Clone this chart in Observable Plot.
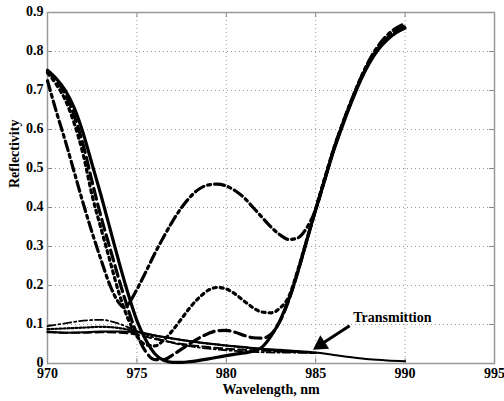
<!DOCTYPE html>
<html><head><meta charset="utf-8">
<script src="https://cdn.jsdelivr.net/npm/d3@7"></script>
<script src="https://cdn.jsdelivr.net/npm/@observablehq/plot@0.6"></script>
<style>body{margin:0;background:#fff} svg text{font-family:"Liberation Serif","Times New Roman",Times,serif !important;}</style>
</head><body><div id="chart"></div>
<script>
// ---- data ----
const xTicks = [970, 975, 980, 985, 990, 995];
const yTicks = [0, 0.1, 0.2, 0.3, 0.4, 0.5, 0.6, 0.7, 0.8, 0.9];

const lambdaR = [970,970.5,971,971.5,972,972.5,973,973.5,974,974.5,975,975.5,976,976.5,977,977.5,978,978.5,979,979.5,980,980.5,981,981.5,982,982.5,983,983.5,984,984.5,985,985.5,986,986.5,987,987.5,988,988.5,989,989.5,990];
const rSolid  = [.752,.73,.70,.655,.59,.51,.43,.345,.26,.18,.11,.06,.025,.008,.003,.003,.005,.008,.012,.016,.02,.024,.027,.032,.042,.07,.11,.165,.235,.315,.395,.47,.545,.61,.67,.725,.77,.805,.83,.848,.86];
const rDashed = [.75,.725,.69,.635,.56,.465,.375,.295,.215,.14,.075,.03,.01,.01,.022,.037,.052,.066,.077,.084,.085,.08,.072,.066,.065,.075,.108,.163,.235,.315,.395,.472,.548,.613,.673,.728,.773,.808,.834,.852,.864];
const rDotted = [.745,.715,.675,.615,.535,.43,.345,.262,.18,.115,.07,.048,.045,.06,.085,.115,.145,.17,.188,.195,.191,.178,.16,.143,.132,.13,.142,.172,.24,.318,.397,.475,.55,.615,.675,.73,.776,.81,.837,.855,.866];
const lambdaDD = [970,970.5,971,971.5,972,972.5,973,973.5,974,974.3,974.6,975,975.5,976,976.5,977,977.5,978,978.5,979,979.5,980,980.5,981,981.5,982,982.5,983,983.5,984,984.5,985,985.5,986,986.5,987,987.5,988,988.5,989,989.5,990];
const rDashDot = [.725,.645,.57,.49,.41,.335,.265,.2,.155,.143,.158,.19,.235,.282,.325,.365,.4,.428,.448,.458,.46,.455,.443,.425,.4,.375,.35,.33,.318,.322,.348,.395,.47,.548,.615,.675,.73,.778,.815,.842,.86,.872];

const lambdaT = [970,971,972,973,974,975,976,977,978,979,980,981,982,983,984,985,986,987,988,989,990];
const tSolid   = [.082,.079,.08,.082,.082,.08,.072,.064,.057,.051,.046,.042,.038,.035,.032,.028,.022,.016,.011,.008,.006];
const tDashed  = [.08,.079,.079,.08,.079,.074,.063,.054,.047,.042,.038,.035,.033,.031,.029,.027];
const tDotted  = [.088,.09,.092,.094,.091,.082,.072,.064,.057,.051,.046,.041,.036,.032,.029,.027];
const tDashDot = [.096,.103,.11,.112,.102,.083,.066,.053,.044,.038,.034,.031,.029,.028,.028,.027];

const annText = "Transmittion";
const annTextPos = [987.1, 0.118];
const annArrowFrom = [986.9, 0.097];
const annArrowTo = [985.0, 0.040];

const xDomain = [970, 995];
const yDomain = [0, 0.9];

// ---- build ----
const toRows = (xs, ys) => ys.map((v, i) => ({x: xs[i], y: v}));
const font = {fontFamily: "Liberation Serif", fontWeight: "bold", fontSize: 14};
const tickLenY = (yDomain[1] - yDomain[0]) * 5 / 351;
const tickLenX = (xDomain[1] - xDomain[0]) * 5 / 447;

const series = [
  {d: toRows(lambdaT, tSolid), w: 2, dash: null},
  {d: toRows(lambdaT, tDashed), w: 2, dash: "8,4"},
  {d: toRows(lambdaT, tDotted), w: 2.2, dash: "2,2"},
  {d: toRows(lambdaT, tDashDot), w: 1.8, dash: "8,3,2,3"},
  {d: toRows(lambdaR, rSolid), w: 3.2, dash: null},
  {d: toRows(lambdaR, rDashed), w: 3.2, dash: "11,5"},
  {d: toRows(lambdaR, rDotted), w: 3.2, dash: "3,4"},
  {d: toRows(lambdaDD, rDashDot), w: 3.2, dash: "10,4,3,4"}
];

const dxA = annArrowTo[0] - annArrowFrom[0];
const dyA = annArrowTo[1] - annArrowFrom[1];

const chart = Plot.plot({
  width: 504, height: 401,
  marginLeft: 47, marginRight: 10, marginTop: 12, marginBottom: 38,
  style: {fontFamily: "Liberation Serif, serif", background: "white"},
  x: {domain: xDomain},
  y: {domain: yDomain},
  marks: [
    Plot.gridX(xTicks, {stroke: "#999", strokeOpacity: 1, strokeDasharray: "1,3"}),
    Plot.gridY(yTicks, {stroke: "#999", strokeOpacity: 1, strokeDasharray: "1,3"}),
    Plot.ruleX(xTicks, {x: d => d, y1: yDomain[0], y2: yDomain[0] + tickLenY, stroke: "#888"}),
    Plot.ruleX(xTicks, {x: d => d, y1: yDomain[1], y2: yDomain[1] - tickLenY, stroke: "#888"}),
    Plot.ruleY(yTicks, {y: d => d, x1: xDomain[0], x2: xDomain[0] + tickLenX, stroke: "#888"}),
    Plot.ruleY(yTicks, {y: d => d, x1: xDomain[1], x2: xDomain[1] - tickLenX, stroke: "#888"}),
    Plot.frame({stroke: "#999", strokeWidth: 1.5}),
    Plot.axisX({ticks: xTicks, tickSize: 0, tickPadding: 5, tickFormat: d => String(d), label: null, ...font}),
    Plot.axisY({ticks: yTicks, tickSize: 0, tickPadding: 4, dy: -1, tickFormat: d => String(+d.toFixed(1)), label: null, ...font}),
    ...series.map(s => Plot.line(s.d, {x: "x", y: "y", stroke: "black", strokeWidth: s.w, strokeDasharray: s.dash, curve: "monotone-x"})),
    Plot.text([annText], {x: annTextPos[0], y: annTextPos[1], text: d => d, textAnchor: "start", ...font}),
    Plot.link([0], {x1: annArrowFrom[0], y1: annArrowFrom[1], x2: annArrowFrom[0] + dxA * 0.75, y2: annArrowFrom[1] + dyA * 0.75, stroke: "black", strokeWidth: 3}),
    Plot.dot([0], {x: annArrowFrom[0] + dxA * 0.85, y: annArrowFrom[1] + dyA * 0.85, symbol: "triangle", r: 6, fill: "black", rotate: -123}),
    Plot.text(["Wavelength, nm"], {frameAnchor: "bottom", dy: 30, text: d => d, ...font}),
    Plot.text(["Reflectivity"], {frameAnchor: "left", dx: -33, rotate: -90, text: d => d, ...font})
  ]
});
document.getElementById("chart").appendChild(chart);
</script></body></html>
